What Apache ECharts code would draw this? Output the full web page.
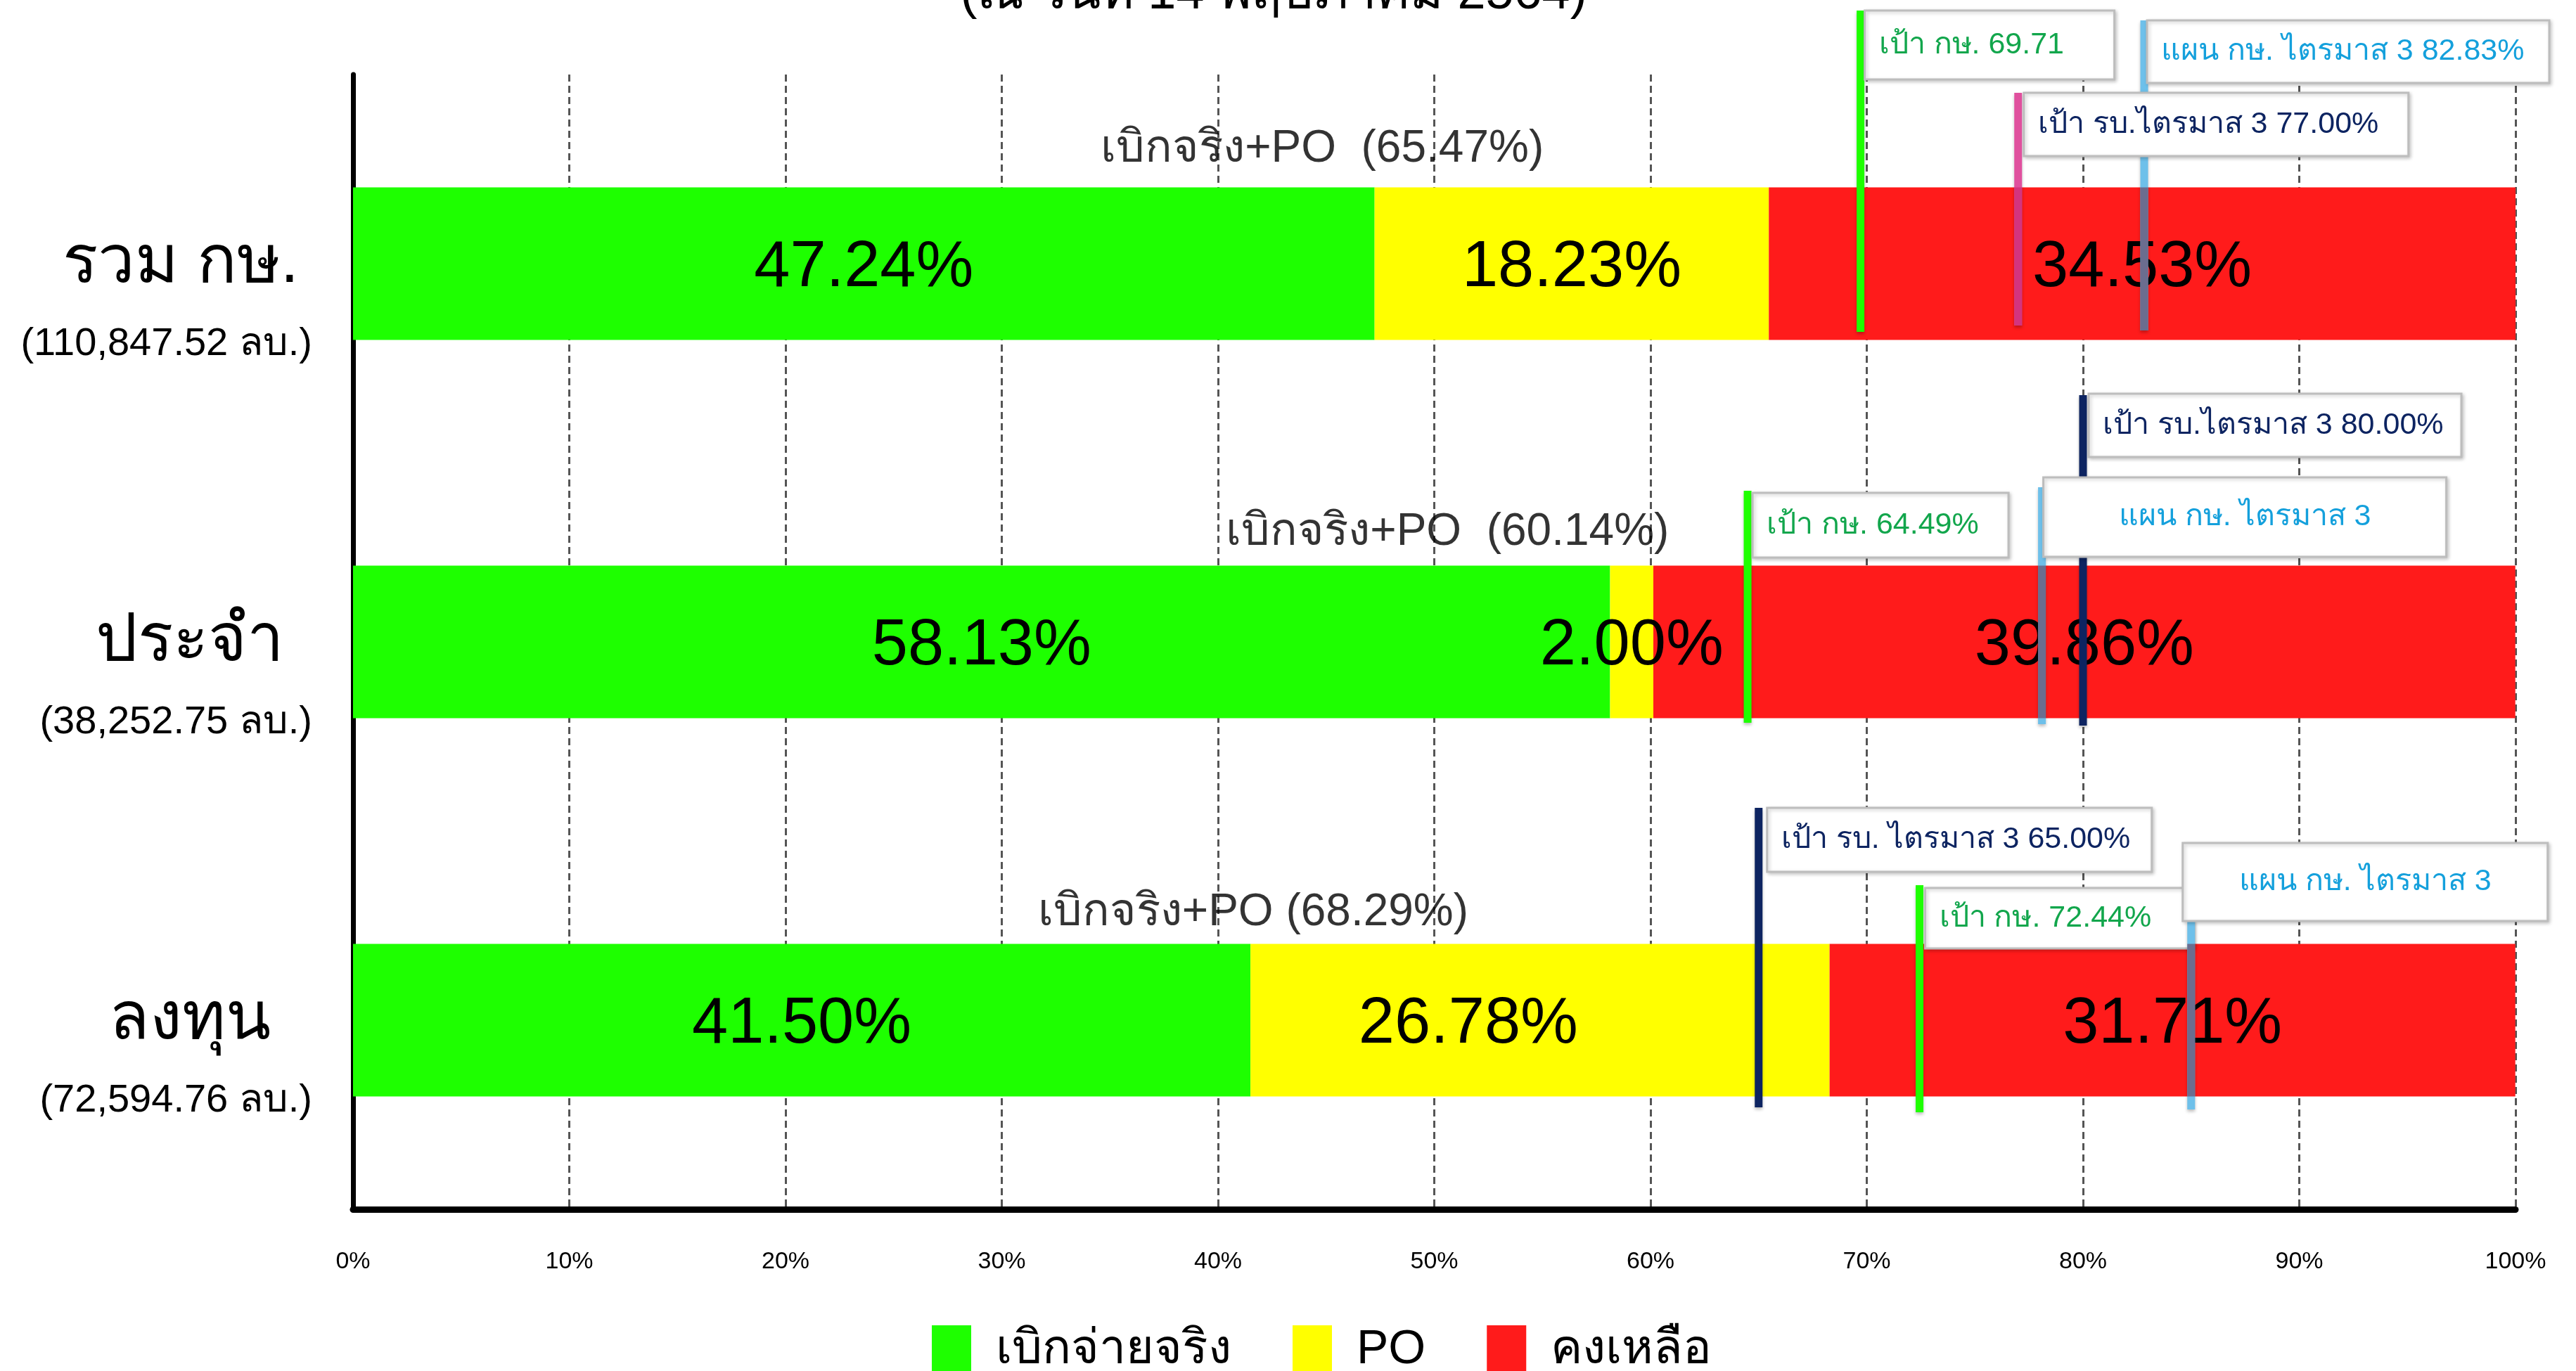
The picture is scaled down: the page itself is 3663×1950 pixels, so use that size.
<!DOCTYPE html>
<html>
<head>
<meta charset="utf-8">
<script src="https://cdn.jsdelivr.net/npm/echarts@6/dist/echarts.min.js"></script>
<style>
  html, body { margin: 0; padding: 0; background: #fff; }
  #chart { width: 3663px; height: 1950px; }
</style>
</head>
<body>
<div id="chart"></div>
<script>
// ข้อมูล
const categories = ['รวม กษ.', 'ประจำ', 'ลงทุน']
const budgets = ['110,847.52', '38,252.75', '72,594.76']
const seriesNames = ['เบิกจ่ายจริง', 'PO', 'คงเหลือ']
const paidValues = [47.24, 58.13, 41.50]
const poValues = [18.23, 2.00, 26.78]
const remainValues = [34.53, 39.86, 31.71]
const paidPoValues = [65.47, 60.14, 68.29]

// เป้า / แผน
const targetRows = [0, 0, 0, 1, 1, 1, 2, 2, 2]
const targetValues = [69.71, 82.83, 77.00, 80.00, 78.10, 64.49, 65.00, 72.44, 85.00]
const targetTexts = [
  'เป้า กษ. 69.71',
  'แผน กษ. ไตรมาส 3 82.83%',
  'เป้า รบ.ไตรมาส 3 77.00%',
  'เป้า รบ.ไตรมาส 3 80.00%',
  'แผน กษ. ไตรมาส 3',
  'เป้า กษ. 64.49%',
  'เป้า รบ. ไตรมาส 3 65.00%',
  'เป้า กษ. 72.44%',
  'แผน กษ. ไตรมาส 3'
]

const FONT = '"Liberation Sans", Arial, sans-serif'
const BAR_H = 217
const GREEN = '#1eff00'
const GREEN_TXT = '#12a64c'
const LBLUE = '#6ec0ea'
const LBLUE_TXT = '#14a0dc'
const NAVY = '#0d2461'
const PINK = '#e0509e'

// ตำแหน่งเส้นและกล่องข้อความ (เทียบกับเส้นและกึ่งกลางแท่ง)
const targetStyles = [
  { color: GREEN, text: GREEN_TXT, line: [-360, 97], box: [6, -360, 355, 98], align: 'left' },
  { color: LBLUE, barColor: '#6b6d8f', text: LBLUE_TXT, line: [-346, 95], box: [4, -346, 572, 89], align: 'left' },
  { color: PINK, barColor: '#d3347f', text: NAVY, line: [-243, 88], box: [8, -243, 547, 90], align: 'left' },
  { color: NAVY, text: NAVY, line: [-351, 119], box: [8, -353, 530, 90], align: 'left' },
  { color: LBLUE, barColor: '#6b6d8f', text: LBLUE_TXT, line: [-220, 117], box: [2, -234, 573, 113], align: 'center' },
  { color: GREEN, text: GREEN_TXT, line: [-215, 115], box: [7, -212, 364, 92], align: 'left' },
  { color: NAVY, text: NAVY, line: [-302, 124], box: [12, -302, 547, 91], align: 'left' },
  { color: GREEN, text: GREEN_TXT, line: [-192, 131], box: [8, -188, 381, 86], align: 'left' },
  { color: LBLUE, barColor: '#6b6d8f', text: LBLUE_TXT, line: [-141, 127], box: [-12, -252, 519, 111], align: 'center' }
]

const poLabelOffsets = [[-635, -163], [-293, -156], [-820, -153]]
const poLabelGaps = ['  ', '  ', ' ']
const segLabelOffsets = [[0, 7], [0, 7], [-102, 7]]

const chart = echarts.init(document.getElementById('chart'))

const barLabel = {
  show: true,
  position: 'inside',
  formatter: (p) => p.value.toFixed(2) + '%',
  fontSize: 92,
  fontFamily: FONT,
  color: '#000',
  textBorderWidth: 0,
  offset: [0, 7]
}

chart.setOption({
  animation: false,
  backgroundColor: '#fff',
  graphic: [
    {
      type: 'text',
      x: 1811,
      y: -8,
      style: {
        text: '(ณ วันที่ 14 พฤษภาคม 2564)',
        font: '72px ' + FONT,
        fill: '#000',
        align: 'center',
        verticalAlign: 'middle'
      }
    }
  ],
  legend: {
    data: seriesNames,
    left: 1320,
    top: 1880,
    icon: 'rect',
    itemWidth: 56,
    itemHeight: 70,
    itemGap: 87,
    textStyle: {
      fontSize: 68,
      fontFamily: FONT,
      color: '#000',
      padding: [0, 0, 0, 30]
    }
  },
  grid: {
    left: 502,
    right: 86,
    top: 106,
    bottom: 230
  },
  xAxis: {
    type: 'value',
    min: 0,
    max: 100,
    interval: 10,
    axisLine: { show: true, lineStyle: { color: '#000', width: 9 } },
    axisTick: { show: false },
    axisLabel: {
      formatter: '{value}%',
      fontSize: 34,
      fontFamily: FONT,
      color: '#000',
      margin: 58
    },
    splitLine: {
      show: true,
      lineStyle: { type: [10, 6], color: '#555', width: 3 }
    }
  },
  yAxis: {
    type: 'category',
    inverse: true,
    data: categories,
    axisLine: { show: true, lineStyle: { color: '#000', width: 7 } },
    axisTick: { show: false },
    axisLabel: {
      margin: 58,
      padding: [126, 0, 0, 0],
      formatter: (v, i) => '{a|' + v + '}\n{b|(' + budgets[i] + ' ลบ.)}',
      rich: {
        a: { fontSize: 94, lineHeight: 104, align: 'center', padding: [0, 0, 0, 40], fontFamily: FONT, color: '#000' },
        b: { fontSize: 56, lineHeight: 126, align: 'center', fontFamily: FONT, color: '#000' }
      }
    }
  },
  series: [
    {
      name: seriesNames[0],
      type: 'bar',
      stack: 'total',
      barWidth: BAR_H,
      itemStyle: { color: GREEN },
      label: barLabel,
      data: paidValues
    },
    {
      name: seriesNames[1],
      type: 'bar',
      stack: 'total',
      barWidth: BAR_H,
      itemStyle: { color: '#ffff00' },
      label: barLabel,
      data: poValues.map((v, i) => ({ value: v, label: { offset: segLabelOffsets[i] } }))
    },
    {
      name: seriesNames[2],
      type: 'bar',
      stack: 'total',
      barWidth: BAR_H,
      itemStyle: { color: '#ff1b1b' },
      label: barLabel,
      data: remainValues
    },
    {
      // ป้าย เบิกจริง+PO
      type: 'scatter',
      symbolSize: 0,
      silent: true,
      z: 4,
      label: {
        show: true,
        position: 'inside',
        fontSize: 64,
        fontFamily: FONT,
        color: '#000',
        formatter: (p) => 'เบิกจริง+PO' + poLabelGaps[p.dataIndex] + '(' + p.value[0].toFixed(2) + '%)'
      },
      data: paidPoValues.map((v, i) => ({ value: [v, i], label: { offset: poLabelOffsets[i] } }))
    },
    {
      // เส้นเป้าหมาย + กล่องข้อความ
      type: 'custom',
      clip: false,
      silent: true,
      z: 10,
      encode: { x: 0, y: 1 },
      data: targetValues.map((v, i) => [v, targetRows[i]]),
      renderItem: (params, api) => {
        const i = params.dataIndex
        const s = targetStyles[i]
        const p = api.coord([api.value(0), api.value(1)])
        const x = p[0]
        const cy = p[1]
        const children = [
          {
            type: 'line',
            shape: { x1: x, y1: cy + s.line[0], x2: x, y2: cy + s.line[1] },
            style: { stroke: s.color, lineWidth: 11, shadowBlur: 4, shadowOffsetY: 3, shadowColor: 'rgba(0,0,0,0.25)' }
          }
        ]
        if (s.barColor) {
          children.push({
            type: 'line',
            shape: {
              x1: x, y1: Math.max(cy - BAR_H / 2, cy + s.line[0]),
              x2: x, y2: Math.min(cy + BAR_H / 2, cy + s.line[1])
            },
            style: { stroke: s.barColor, lineWidth: 11 }
          })
        }
        const bx = x + s.box[0]
        const by = cy + s.box[1]
        children.push({
          type: 'rect',
          shape: { x: bx, y: by, width: s.box[2], height: s.box[3] },
          style: { fill: '#fff', stroke: '#bdbdbd', lineWidth: 3, shadowBlur: 5, shadowOffsetX: 2, shadowOffsetY: 2, shadowColor: 'rgba(0,0,0,0.2)' }
        })
        children.push({
          type: 'text',
          style: {
            text: targetTexts[i],
            x: s.align === 'center' ? bx + s.box[2] / 2 : bx + 20,
            y: by + s.box[3] / 2,
            fill: s.text,
            font: '43px ' + FONT,
            align: s.align,
            verticalAlign: 'middle'
          }
        })
        return { type: 'group', children }
      }
    }
  ]
})
</script>
</body>
</html>
